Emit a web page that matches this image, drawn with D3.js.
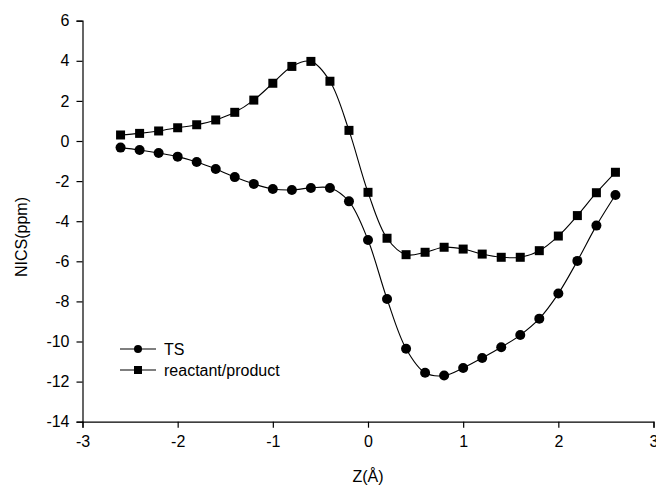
<!DOCTYPE html>
<html>
<head>
<meta charset="utf-8">
<script src="https://cdn.jsdelivr.net/npm/d3@7"></script>
<style>
  body { margin: 0; background: #fff; }
  text { font-family: "Liberation Sans", Arial, sans-serif; fill: #000; }
</style>
</head>
<body>
<div id="chart"></div>
<script>
// ----------------------------
// DATA
// ----------------------------
const zValues = [-2.6, -2.4, -2.2, -2.0, -1.8, -1.6, -1.4, -1.2, -1.0, -0.8, -0.6, -0.4, -0.2,
  0.0, 0.2, 0.4, 0.6, 0.8, 1.0, 1.2, 1.4, 1.6, 1.8, 2.0, 2.2, 2.4, 2.6];

const tsValues = [-0.33, -0.45, -0.6, -0.78, -1.05, -1.4, -1.8, -2.14, -2.39, -2.44, -2.34, -2.34, -3.01,
  -4.94, -7.88, -10.36, -11.56, -11.7, -11.32, -10.82, -10.29, -9.68, -8.86, -7.61, -5.98, -4.22, -2.69];

const rpValues = [0.3, 0.38, 0.5, 0.66, 0.81, 1.05, 1.43, 2.04, 2.88, 3.72, 3.97, 2.98, 0.53,
  -2.56, -4.85, -5.67, -5.55, -5.3, -5.39, -5.64, -5.8, -5.8, -5.47, -4.74, -3.72, -2.58, -1.56];

const xTicks = [-3, -2, -1, 0, 1, 2, 3];
const yTicks = [-14, -12, -10, -8, -6, -4, -2, 0, 2, 4, 6];

const series = [
  { name: "TS", shape: "circle", values: tsValues },
  { name: "reactant/product", shape: "square", values: rpValues }
];

// ----------------------------
// LAYOUT
// ----------------------------
const width = 656;
const height = 486;
const margin = { top: 20.7, right: 2.5, bottom: 64.3, left: 82.5 };
const innerW = width - margin.left - margin.right;
const innerH = height - margin.top - margin.bottom;

const svg = d3.select("#chart")
  .append("svg")
  .attr("width", width)
  .attr("height", height);

const g = svg.append("g").attr("transform", `translate(${margin.left},${margin.top})`);

const x = d3.scaleLinear().domain([-3, 3]).range([0, innerW]);
const y = d3.scaleLinear().domain([-14, 6]).range([innerH, 0]);

const line = d3.line()
  .x(d => x(d[0]))
  .y(d => y(d[1]))
  .curve(d3.curveCatmullRom.alpha(0.5));

// ----------------------------
// AXES
// ----------------------------
const xAxis = g.append("g")
  .attr("transform", `translate(0,${innerH})`)
  .call(d3.axisBottom(x).tickValues(xTicks).tickSize(6).tickPadding(8).tickFormat(d3.format("d")));

const yAxis = g.append("g")
  .call(d3.axisLeft(y).tickValues(yTicks).tickSize(6).tickPadding(7).tickFormat(d3.format("d")));

[xAxis, yAxis].forEach(a => {
  a.select(".domain").attr("stroke", "#000").attr("stroke-width", 1.2);
  a.selectAll(".tick line").attr("stroke", "#000").attr("stroke-width", 1.2);
  a.selectAll(".tick text")
    .attr("font-size", "16px")
    .attr("font-family", "Liberation Sans, Arial, sans-serif")
    .attr("fill", "#000");
});

// hyphen-style minus like the original
xAxis.selectAll(".tick text").text(d => String(d));
yAxis.selectAll(".tick text").text(d => String(d));

// axis titles
svg.append("text")
  .attr("x", margin.left + x(0))
  .attr("y", 482)
  .attr("text-anchor", "middle")
  .attr("font-size", "16px")
  .text("Z(Å)");

svg.append("text")
  .attr("transform", `translate(27,237) rotate(-90)`)
  .attr("text-anchor", "middle")
  .attr("font-size", "16px")
  .text("NICS(ppm)");

// ----------------------------
// LINES + MARKERS
// ----------------------------
function drawMarker(sel, shape, size) {
  if (shape === "circle") {
    sel.append("circle").attr("r", size / 2).attr("fill", "#000");
  } else {
    sel.append("rect")
      .attr("x", -size / 2).attr("y", -size / 2)
      .attr("width", size).attr("height", size)
      .attr("fill", "#000");
  }
}

series.forEach(s => {
  const pts = zValues.map((z, i) => [z, s.values[i]]);

  g.append("path")
    .attr("fill", "none")
    .attr("stroke", "#000")
    .attr("stroke-width", 1.1)
    .attr("d", line(pts));

  g.selectAll(null)
    .data(pts)
    .join("g")
    .attr("transform", d => `translate(${x(d[0])},${y(d[1])})`)
    .each(function () { drawMarker(d3.select(this), s.shape, s.shape === "circle" ? 10 : 9); });
});

// ----------------------------
// LEGEND
// ----------------------------
const legend = svg.append("g").attr("transform", "translate(120,349)");

const items = legend.selectAll(".legend-item")
  .data(series)
  .join("g")
  .attr("class", "legend-item")
  .attr("transform", (_, i) => `translate(0,${i * 21})`);

items.append("line")
  .attr("x1", 0).attr("x2", 36)
  .attr("stroke", "#000")
  .attr("stroke-width", 1.1);

items.each(function (d) { drawMarker(d3.select(this).append("g").attr("transform", "translate(18,0)"), d.shape, 8); });

items.append("text")
  .attr("x", 44)
  .attr("y", 5.5)
  .attr("font-size", "16px")
  .text(d => d.name);
</script>
</body>
</html>
